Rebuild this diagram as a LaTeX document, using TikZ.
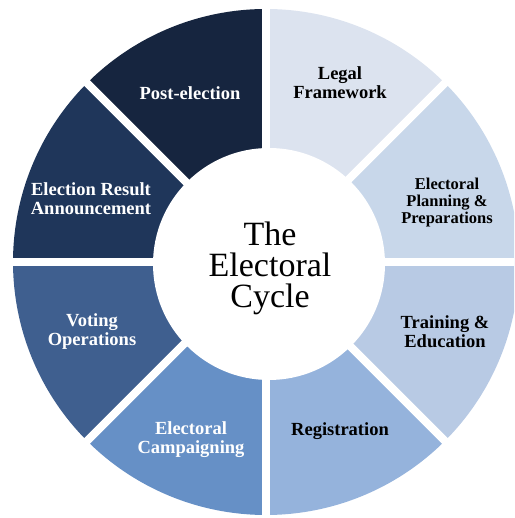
\documentclass[tikz,border=0pt]{standalone}
\usepackage{fontspec}
\setmainfont{Liberation Serif}
\begin{document}
\begin{tikzpicture}[x=1pt,y=1pt,
  seglabel/.style={align=center,font=\fontsize{18.5}{19}\selectfont\bfseries},
  onlight/.style={seglabel,text=black},
  ondark/.style={seglabel,text=white},
  gapline/.style={white,line width=8pt}]
\definecolor{cLegal}{HTML}{DCE3EF}
\definecolor{cPlan}{HTML}{C8D7EA}
\definecolor{cTrain}{HTML}{B8CAE4}
\definecolor{cReg}{HTML}{95B3DC}
\definecolor{cCamp}{HTML}{6690C6}
\definecolor{cVote}{HTML}{3F5F8F}
\definecolor{cResult}{HTML}{1F365A}
\definecolor{cPost}{HTML}{16253F}
\useasboundingbox (0,0) rectangle (514,518);
\clip (0,0) rectangle (514,518);
\coordinate (C) at (266,256);
% ring sectors, 45 degrees each
\foreach \a/\col in {45/cLegal,0/cPlan,-45/cTrain,-90/cReg,-135/cCamp,180/cVote,135/cResult,90/cPost}{
  \fill[\col] (C) -- ++(\a:253) arc[start angle=\a, delta angle=45, radius=253] -- cycle;
}
% white separators between sectors
\foreach \a in {0,45,...,315}{
  \draw[gapline] (C) -- ++(\a:262);
}
% hub
\node[circle,fill=white,minimum size=232pt,inner sep=0pt] (hub) at (269,254) {};
\node[align=center,font=\fontsize{34}{31}\selectfont] (title) at (270,250) {The\\Electoral\\Cycle};
% sector labels
\node[onlight] (legal) at (340,435) {Legal\\Framework};
\node[onlight,font=\fontsize{16.5}{17}\selectfont\bfseries] (plan) at (447,315) {Electoral\\Planning \&\\Preparations};
\node[onlight] (train) at (445,186) {Training \&\\Education};
\node[onlight] (reg) at (340,87) {Registration};
\node[ondark] (camp) at (191,78) {Electoral\\Campaigning};
\node[ondark] (vote) at (92,186) {Voting\\Operations};
\node[ondark] (result) at (91,319) {Election Result\\Announcement};
\node[ondark] (post) at (190,425) {Post-election};
\end{tikzpicture}
\end{document}
